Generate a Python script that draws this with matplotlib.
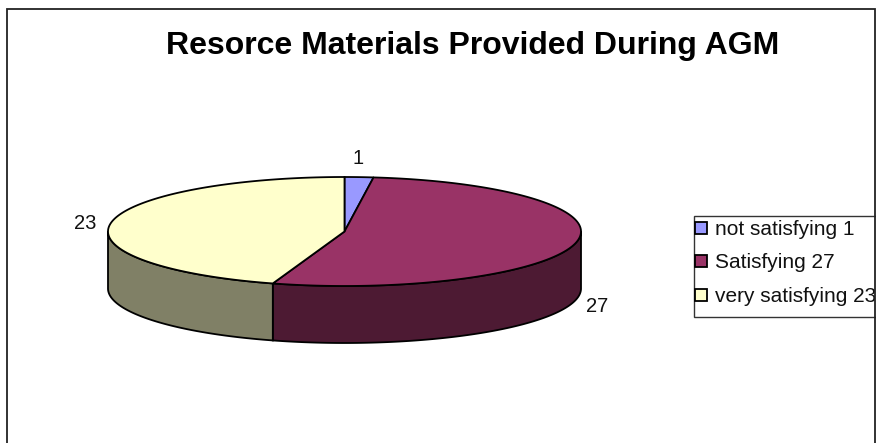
import numpy as np
import matplotlib
matplotlib.use("Agg")
import matplotlib.pyplot as plt
from matplotlib.patches import Polygon, Rectangle
from matplotlib.transforms import Bbox

plt.rcParams["font.family"] = ["Liberation Sans", "DejaVu Sans"]

# data
categories = ["not satisfying", "Satisfying", "very satisfying"]
values = [1, 27, 23]
top_colors = ["#9999FF", "#993366", "#FFFFCC"]
side_colors = ["#4D4D80", "#4D1A33", "#808066"]

# layout, in pixels of the 876x443 picture
CX, CY = 344.5, 231.5
RX, RY = 236.5, 54.5
DEPTH = 57
label_pos = [(358, 158), (597, 306), (85, 223)]
swatch_y = [228, 261, 295]
legend_y = [229, 262, 296]

fig = plt.figure(figsize=(8.76, 4.43), dpi=100)
ax = fig.add_axes([0, 0, 1, 1])
ax.set_xlim(0, 876)
ax.set_ylim(443, 0)
ax.axis("off")


def rim(t0, t1, dy=0.0):
    # t is degrees clockwise from the top of the ellipse
    t = np.radians(np.linspace(t0, t1, max(int(abs(t1 - t0)) * 2, 2)))
    return np.column_stack((CX + RX * np.sin(t), CY + dy - RY * np.cos(t)))


angles = np.concatenate(([0], np.cumsum(values))) / sum(values) * 360

# side walls, only the front half of the rim shows
for i in range(len(values)):
    t0, t1 = max(angles[i], 90), min(angles[i + 1], 270)
    if t1 <= t0:
        continue
    pts = np.vstack((rim(t0, t1), rim(t0, t1, DEPTH)[::-1]))
    ax.add_patch(Polygon(pts, closed=True, facecolor=side_colors[i],
                         edgecolor="black", linewidth=1.3, zorder=2))

# top face
for i in range(len(values)):
    pts = np.vstack(([[CX, CY]], rim(angles[i], angles[i + 1])))
    ax.add_patch(Polygon(pts, closed=True, facecolor=top_colors[i],
                         edgecolor="black", linewidth=1.3, zorder=3))

# value labels
for v, (x, y) in zip(values, label_pos):
    ax.text(x, y, str(v), fontsize=14.5, ha="center", va="center", color="#111111")

ax.text(472.5, 46, "Resorce Materials Provided During AGM", fontsize=23,
        fontweight="bold", ha="center", va="center", color="black")

# chart frame, open at the bottom where the picture is cut
ax.plot([6.5, 6.5, 875, 875], [443, 8.5, 8.5, 443], color="#222222",
        linewidth=1.3, solid_joinstyle="miter", zorder=5)

# legend box runs into the right edge and gets cut off
ax.plot([875, 694, 694, 875], [216, 216, 317, 317], color="#333333",
        linewidth=1.0, solid_joinstyle="miter", zorder=4)
for name, v, c, sy, y in zip(categories, values, top_colors, swatch_y, legend_y):
    ax.add_patch(Rectangle((694.5, sy - 6), 12, 12, facecolor=c,
                           edgecolor="black", linewidth=1.3, zorder=4))
    t = ax.text(715, y, f"{name} {v}", fontsize=15.0, ha="left", va="center",
                color="#111111", clip_on=True)
    t.set_clip_box(Bbox([[0, 0], [875, 443]]))

fig.savefig("out.png", dpi=100, facecolor="white")
